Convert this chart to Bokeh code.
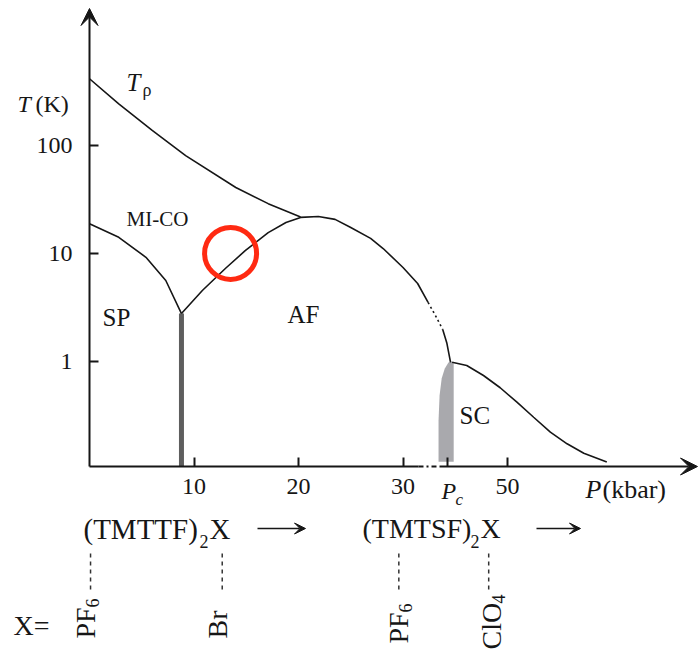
import math

from bokeh.plotting import figure
from bokeh.models import Range1d, FixedTicker, PrintfTickFormatter, Label, Arrow, VeeHead
from bokeh.embed import file_html
from bokeh.resources import INLINE

# ---------------------------------------------------------------------------
# Generic (TM)2X phase diagram: pressure position on a schematic axis (kbar),
# temperature on a log axis (K).
# ---------------------------------------------------------------------------

# Resistivity minimum / crossover line T_rho
t_rho_p = [0.0, 2.8, 6.0, 9.2, 14.0, 17.1, 20.2]
t_rho_t = [420.0, 245.0, 139.0, 81.0, 41.0, 29.0, 21.8]

# Spin-Peierls boundary (charge-ordered insulator -> SP)
sp_p = [0.0, 2.8, 5.4, 7.3, 8.8]
sp_t = [18.9, 14.1, 9.2, 5.6, 2.76]

# Antiferromagnetic dome, solid part
af_p = [8.8, 10.8, 13.0, 14.9, 17.1, 18.8, 20.2, 21.9, 23.5, 25.0, 26.9, 28.1, 30.0, 31.4, 32.4]
af_t = [2.76, 4.52, 7.24, 10.6, 15.6, 19.4, 21.6, 22.0, 20.7, 17.4, 13.8, 11.1, 7.4, 5.25, 3.5]

# Antiferromagnetic boundary across the axis break (uncertain, dotted)
af_gap_p = [32.4, 33.1, 33.8]
af_gap_t = [3.5, 2.65, 1.96]

# Antiferromagnetic boundary down to the critical pressure
af_tail_p = [33.8, 34.2, 34.55]
af_tail_t = [1.96, 1.46, 0.97]

# Superconducting boundary
sc_p = [34.7, 36.1, 37.7, 39.3, 40.9, 42.5, 44.1, 45.7, 47.3, 49.5]
sc_t = [0.975, 0.908, 0.733, 0.564, 0.414, 0.300, 0.218, 0.170, 0.139, 0.115]

# Coexistence region near P_c
mix_p = [33.4, 33.4, 33.5, 33.7, 34.0, 34.35, 34.65, 34.85, 34.85]
mix_t = [0.116, 0.28, 0.478, 0.688, 0.851, 0.968, 0.99, 0.948, 0.116]

# Highlighted point on the SP / AF boundary
mark_p = [13.5]
mark_t = [10.0]

# Axis ticks
p_ticks = [10, 20, 30, 34.26, 40]
p_tick_labels = ["10", "20", "30", "", "50"]
t_ticks = [1, 10, 100]

# Salts placed along the pressure axis
salt_p = [0.1, 12.7, 29.6, 38.2]

# ---------------------------------------------------------------------------
W, H = 700, 650
AX_L, AX_R, AX_T, AX_B = 89, 697, 8, 466      # axis corners on the canvas
P_MIN, P_MAX = 0.0, 58.18
T_MIN, T_MAX = 0.1046, 1888.0

SERIF = "Liberation Serif"
INK = "#161616"

_sx = (P_MAX - P_MIN) / (AX_R - AX_L)
_sy = (math.log10(T_MAX) - math.log10(T_MIN)) / (AX_B - AX_T)


def at_x(px):
    """Canvas column -> pressure position."""
    return P_MIN + (px - AX_L) * _sx


def at_y(py):
    """Canvas row -> temperature on the log axis."""
    return 10 ** (math.log10(T_MIN) + (AX_B - py) * _sy)


# the frame fills the whole canvas; the axes sit at fixed data locations
p = figure(
    width=W, height=H,
    x_range=Range1d(at_x(0), at_x(W)), y_range=Range1d(at_y(H), at_y(0)),
    y_axis_type="log",
    output_backend="svg", toolbar_location=None,
    min_border=0, min_border_left=0, min_border_right=0,
    min_border_top=0, min_border_bottom=0,
)
p.outline_line_color = None
p.grid.visible = False
p.background_fill_color = "white"
p.border_fill_color = "white"

xa = p.xaxis[0]
xa.fixed_location = T_MIN
xa.ticker = FixedTicker(ticks=p_ticks)
xa.major_label_overrides = {t: s for t, s in zip(p_ticks, p_tick_labels)}
xa.axis_line_color = None
xa.major_tick_in = 9
xa.major_tick_out = 0
xa.major_tick_line_width = 2
xa.major_tick_line_color = INK
xa.minor_tick_line_color = None
xa.major_label_text_font = SERIF
xa.major_label_text_font_size = "24px"
xa.major_label_text_color = INK
xa.major_label_standoff = 12

ya = p.yaxis[0]
ya.fixed_location = P_MIN
ya.ticker = FixedTicker(ticks=t_ticks)
ya.formatter = PrintfTickFormatter(format="%d")
ya.axis_line_color = None
ya.major_tick_in = 9
ya.major_tick_out = 0
ya.major_tick_line_width = 2
ya.major_tick_line_color = INK
ya.minor_tick_line_color = None
ya.major_label_text_font = SERIF
ya.major_label_text_font_size = "24px"
ya.major_label_text_color = INK
ya.major_label_standoff = 17

# axis lines with arrow heads, and the break before P_c
p.add_layout(Arrow(x_start=P_MIN, y_start=T_MIN, x_end=P_MIN, y_end=T_MAX, line_width=2,
                   line_color=INK, end=VeeHead(size=17, fill_color=INK, line_color=INK)))
p.add_layout(Arrow(x_start=P_MIN, y_start=T_MIN, x_end=at_x(418), y_end=T_MIN, line_width=2,
                   line_color=INK, end=None))
p.add_layout(Arrow(x_start=at_x(418), y_start=T_MIN, x_end=at_x(439), y_end=T_MIN, line_width=2,
                   line_color=INK, line_dash="5 3 2 3", end=None))
p.add_layout(Arrow(x_start=at_x(439), y_start=T_MIN, x_end=P_MAX, y_end=T_MIN, line_width=2,
                   line_color=INK, end=VeeHead(size=17, fill_color=INK, line_color=INK)))

# phase boundaries
p.patch(mix_p, mix_t, fill_color="#a9a9ad", line_color=None)
p.segment(x0=[sp_p[-1]], y0=[T_MIN], x1=[sp_p[-1]], y1=[sp_t[-1]], line_width=5,
          line_color="#5e5e5e")
p.line(t_rho_p, t_rho_t, line_width=1.6, line_color=INK)
p.line(sp_p, sp_t, line_width=1.6, line_color=INK)
p.line(af_p, af_t, line_width=1.6, line_color=INK)
p.line(af_gap_p, af_gap_t, line_width=1.6, line_color=INK, line_dash="2 3")
p.line(af_tail_p, af_tail_t, line_width=1.6, line_color=INK)
p.line(sc_p, sc_t, line_width=1.6, line_color=INK)
p.scatter(mark_p, mark_t, marker="circle", size=52, fill_color=None,
          line_color="#ff2a12", line_width=5)


def text(s, px, py, size=24, style="normal", align="left", baseline="middle", angle=0.0):
    p.add_layout(Label(x=at_x(px), y=at_y(py), text=s, text_font=SERIF,
                       text_font_size=f"{size}px", text_font_style=style, text_color=INK,
                       text_align=align, text_baseline=baseline, angle=angle))


# axis titles
text("T", 17, 103, 24, "italic")
text("(K)", 35, 103, 24)
text("P", 585, 489, 26, "italic")
text("(kbar)", 602, 489, 26)
text("P", 441, 490, 24, "italic")
text("c", 455, 499, 17, "italic")

# region names
text("T", 126, 82, 25, "italic")
text("\u03c1", 142, 89, 18)
text("MI-CO", 126, 218, 21)
text("SP", 102, 317, 25)
text("AF", 287, 314, 25)
text("SC", 459, 415, 25)

# families of salts
text("(TMTTF)", 83, 528, 29)
text("2", 199, 541, 18)
text("X", 209, 528, 29)
text("(TMTSF)", 362, 528, 28)
text("2", 470, 541, 18)
text("X", 480, 528, 28)
for a, b in ((257, 305), (536, 580)):
    p.add_layout(Arrow(x_start=at_x(a), y_start=at_y(528), x_end=at_x(b), y_end=at_y(528),
                       line_width=1.5, line_color=INK,
                       end=VeeHead(size=11, fill_color=INK, line_color=INK)))

# anions
for sp in salt_p:
    p.add_layout(Arrow(x_start=sp, y_start=at_y(553), x_end=sp, y_end=at_y(590),
                       line_width=1.5, line_color="#333333", line_dash="4 4", end=None))

up = math.pi / 2
text("X=", 13, 625, 28)
text("PF", 85, 638, 28, baseline="alphabetic", angle=up)
text("6", 92, 607, 18, baseline="alphabetic", angle=up)
text("Br", 217, 638, 28, baseline="alphabetic", angle=up)
text("PF", 398, 643, 28, baseline="alphabetic", angle=up)
text("6", 405, 612, 18, baseline="alphabetic", angle=up)
text("ClO", 491, 649, 28, baseline="alphabetic", angle=up)
text("4", 498, 603, 18, baseline="alphabetic", angle=up)

open("out.html", "w").write(file_html(p, INLINE))
